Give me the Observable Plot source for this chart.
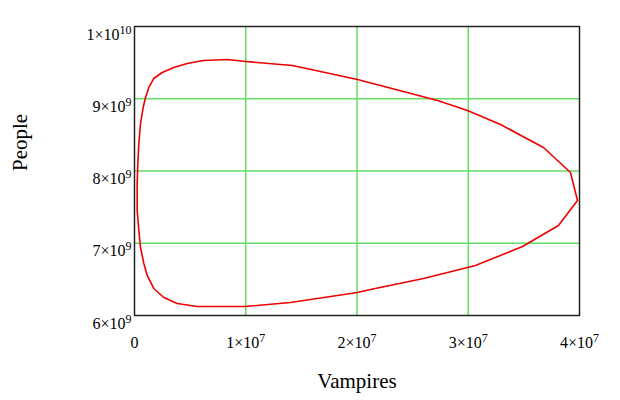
<!DOCTYPE html>
<html>
<head>
<meta charset="utf-8">
<script src="https://cdn.jsdelivr.net/npm/d3@7"></script>
<script src="https://cdn.jsdelivr.net/npm/@observablehq/plot@0.6"></script>
<style>
  body { margin: 0; background: #fff; }
  #chart svg { font-family: "Liberation Serif", "Times New Roman", serif; }
</style>
</head>
<body>
<div id="chart"></div>
<script>
// Orbit of the vampire/people model
const vampires = [0.00024e9, 0.00024e9, 0.0003e9, 0.00039e9, 0.00054e9, 0.00078e9, 0.00099e9, 0.00129e9,
  0.00173e9, 0.00249e9, 0.00353e9, 0.00474e9, 0.0062e9, 0.00836e9, 0.00998e9, 0.0142e9, 0.02004e9,
  0.02211e9, 0.02724e9, 0.02993e9, 0.0329e9, 0.03676e9, 0.03919e9, 0.03982e9, 0.03811e9, 0.03488e9,
  0.03065e9, 0.02598e9, 0.02121e9, 0.02004e9, 0.01402e9, 0.00998e9, 0.00564e9, 0.00384e9, 0.00263e9,
  0.00173e9, 0.00114e9, 0.00084e9, 0.00054e9, 0.00039e9, 0.00024e9, 0.00024e9];
const people = [7.6e9, 7.827e9, 8.104e9, 8.381e9, 8.657e9, 8.879e9, 9.017e9, 9.156e9,
  9.28e9, 9.363e9, 9.433e9, 9.488e9, 9.529e9, 9.543e9, 9.516e9, 9.46e9, 9.266e9,
  9.183e9, 8.976e9, 8.837e9, 8.644e9, 8.325e9, 7.979e9, 7.592e9, 7.246e9, 6.955e9,
  6.692e9, 6.512e9, 6.36e9, 6.318e9, 6.18e9, 6.125e9, 6.125e9, 6.166e9, 6.249e9,
  6.374e9, 6.554e9, 6.72e9, 6.941e9, 7.176e9, 7.453e9, 7.6e9];

const xTicks = [0, 1e7, 2e7, 3e7, 4e7];
const yTicks = [6e9, 7e9, 8e9, 9e9, 1e10];
const xGrid = [1e7, 2e7, 3e7];
const yGrid = [7e9, 8e9, 9e9];
const xLabel = "Vampires";
const yLabel = "People";

const data = vampires.map((v, i) => ({v, p: people[i]}));

const fmtX = d => d === 0 ? "0" : `${d / 1e7}×10^7`;
const fmtY = d => d >= 1e10 ? `${d / 1e10}×10^10` : `${d / 1e9}×10^9`;

const chart = Plot.plot({
  width: 620,
  height: 400,
  marginLeft: 134,
  marginRight: 41,
  marginTop: 26,
  marginBottom: 85,
  style: {fontFamily: "Liberation Serif, Times New Roman, serif", fontSize: "16px", color: "#000", background: "#fff"},
  x: {domain: [0, 4e7], label: null},
  y: {domain: [6e9, 1e10], label: null},
  marks: [
    Plot.ruleX(xGrid, {stroke: "#66dd66", strokeWidth: 1.5}),
    Plot.ruleY(yGrid, {stroke: "#66dd66", strokeWidth: 1.5}),
    Plot.line(data, {x: "v", y: "p", stroke: "#ee0000", strokeWidth: 1.6, curve: "linear"}),
    Plot.frame({stroke: "#222", strokeWidth: 1.5}),
    Plot.axisX(xTicks, {tickSize: 0, tickPadding: 21, tickFormat: fmtX, fontSize: 16, label: null}),
    Plot.axisY(yTicks, {tickSize: 0, tickPadding: 3, tickFormat: fmtY, fontSize: 16, label: null}),
    Plot.text([xLabel], {frameAnchor: "bottom", dy: 72, fontSize: 21, text: d => d}),
    Plot.text([yLabel], {frameAnchor: "left", dx: -114, rotate: -90, fontSize: 21, text: d => d})
  ]
});

// Turn "a×10^b" into real superscripts
d3.select(chart).selectAll("g[aria-label='x-axis tick label'] text, g[aria-label='y-axis tick label'] text").each(function() {
  const t = d3.select(this);
  t.attr("font-size", "16px");
  const s = t.text();
  const m = s.match(/^(.*)\^(.*)$/);
  if (!m) return;
  t.text(null);
  t.append("tspan").text(m[1]);
  t.append("tspan").attr("dy", "-0.5em").attr("font-size", "12px").text(m[2]);
});
d3.select(chart).selectAll("g[aria-label='y-axis tick label'] text").attr("dy", "0.5em");

document.getElementById("chart").appendChild(chart);
</script>
</body>
</html>
